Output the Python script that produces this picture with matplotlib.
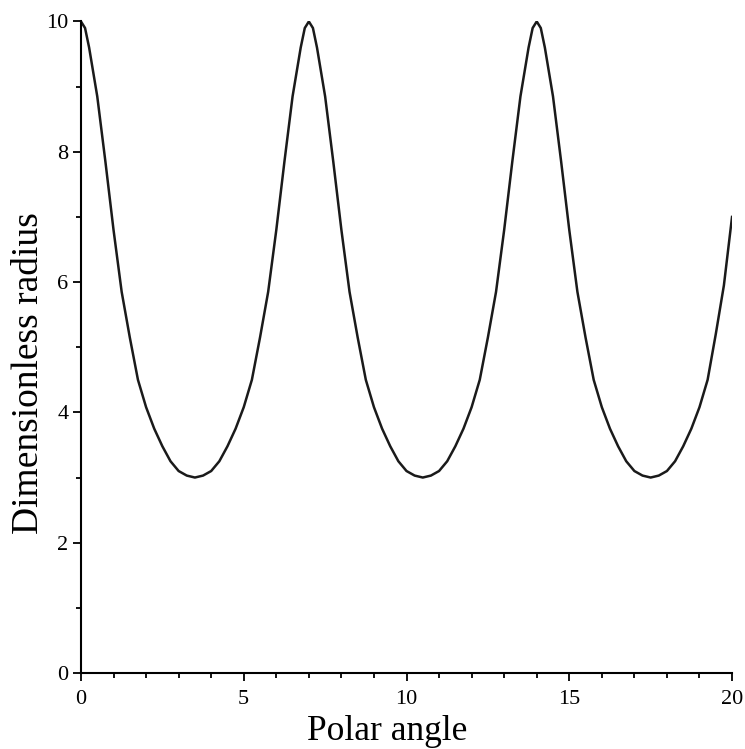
import matplotlib
matplotlib.use("Agg")
import matplotlib.pyplot as plt
from matplotlib.ticker import MultipleLocator

# readings (three stretches: 0-7, 7-14, 14-20)
polar_angle = [
    0.0, 0.125, 0.25, 0.5, 0.75, 1.0, 1.25, 1.5, 1.75, 2.0, 2.25, 2.5, 2.75, 3.0, 3.25,
    3.5, 3.75, 4.0, 4.25, 4.5, 4.75, 5.0, 5.25, 5.5, 5.75, 6.0, 6.25, 6.5, 6.75, 6.875,
    7.0, 7.125, 7.25, 7.5, 7.75, 8.0, 8.25, 8.5, 8.75, 9.0, 9.25, 9.5, 9.75, 10.0, 10.25,
    10.5, 10.75, 11.0, 11.25, 11.5, 11.75, 12.0, 12.25, 12.5, 12.75, 13.0, 13.25, 13.5, 13.75, 13.875,
    14.0, 14.125, 14.25, 14.5, 14.75, 15.0, 15.25, 15.5, 15.75, 16.0, 16.25, 16.5, 16.75, 17.0, 17.25,
    17.5, 17.75, 18.0, 18.25, 18.5, 18.75, 19.0, 19.25, 19.5, 19.75, 20.0,
]
radius = [
    10.0, 9.9, 9.6, 8.85, 7.85, 6.8, 5.85, 5.15, 4.5, 4.08, 3.75, 3.48, 3.25, 3.1, 3.03,
    3.0, 3.03, 3.1, 3.25, 3.48, 3.75, 4.08, 4.5, 5.15, 5.85, 6.8, 7.85, 8.85, 9.6, 9.9,
    10.0, 9.9, 9.6, 8.85, 7.85, 6.8, 5.85, 5.15, 4.5, 4.08, 3.75, 3.48, 3.25, 3.1, 3.03,
    3.0, 3.03, 3.1, 3.25, 3.48, 3.75, 4.08, 4.5, 5.15, 5.85, 6.8, 7.85, 8.85, 9.6, 9.9,
    10.0, 9.9, 9.6, 8.85, 7.85, 6.8, 5.85, 5.15, 4.5, 4.08, 3.75, 3.48, 3.25, 3.1, 3.03,
    3.0, 3.03, 3.1, 3.25, 3.48, 3.75, 4.08, 4.5, 5.2, 5.95, 7.0,
]

plt.rcParams['font.family'] = ['Liberation Serif', 'DejaVu Serif']

fig = plt.figure(figsize=(7.45, 7.49), dpi=100)
ax = fig.add_axes([0.1087, 0.1015, 0.8739, 0.8698])

ax.plot(polar_angle, radius, color='#1a1a1a', lw=1.8)

ax.set_xlim(0, 20)
ax.set_ylim(0, 10)
ax.xaxis.set_major_locator(MultipleLocator(5))
ax.xaxis.set_minor_locator(MultipleLocator(1))
ax.yaxis.set_major_locator(MultipleLocator(2))
ax.yaxis.set_minor_locator(MultipleLocator(1))

for side in ['top', 'right']:
    ax.spines[side].set_visible(False)
for side in ['left', 'bottom']:
    ax.spines[side].set_linewidth(1.5)
    ax.spines[side].set_color('black')

ax.tick_params(which='major', direction='out', length=6, width=1.3, labelsize=16, pad=6)
ax.tick_params(which='minor', direction='out', length=3.5, width=1.3)
ax.tick_params(axis='y', which='major', pad=3)

ax.set_xlabel('Polar angle', fontsize=25.5)
ax.set_ylabel('Dimensionless radius', fontsize=27)
ax.xaxis.set_label_coords(0.47, -0.064)
ax.yaxis.set_label_coords(-0.054, 0.46)

fig.savefig('out.png', dpi=100)
